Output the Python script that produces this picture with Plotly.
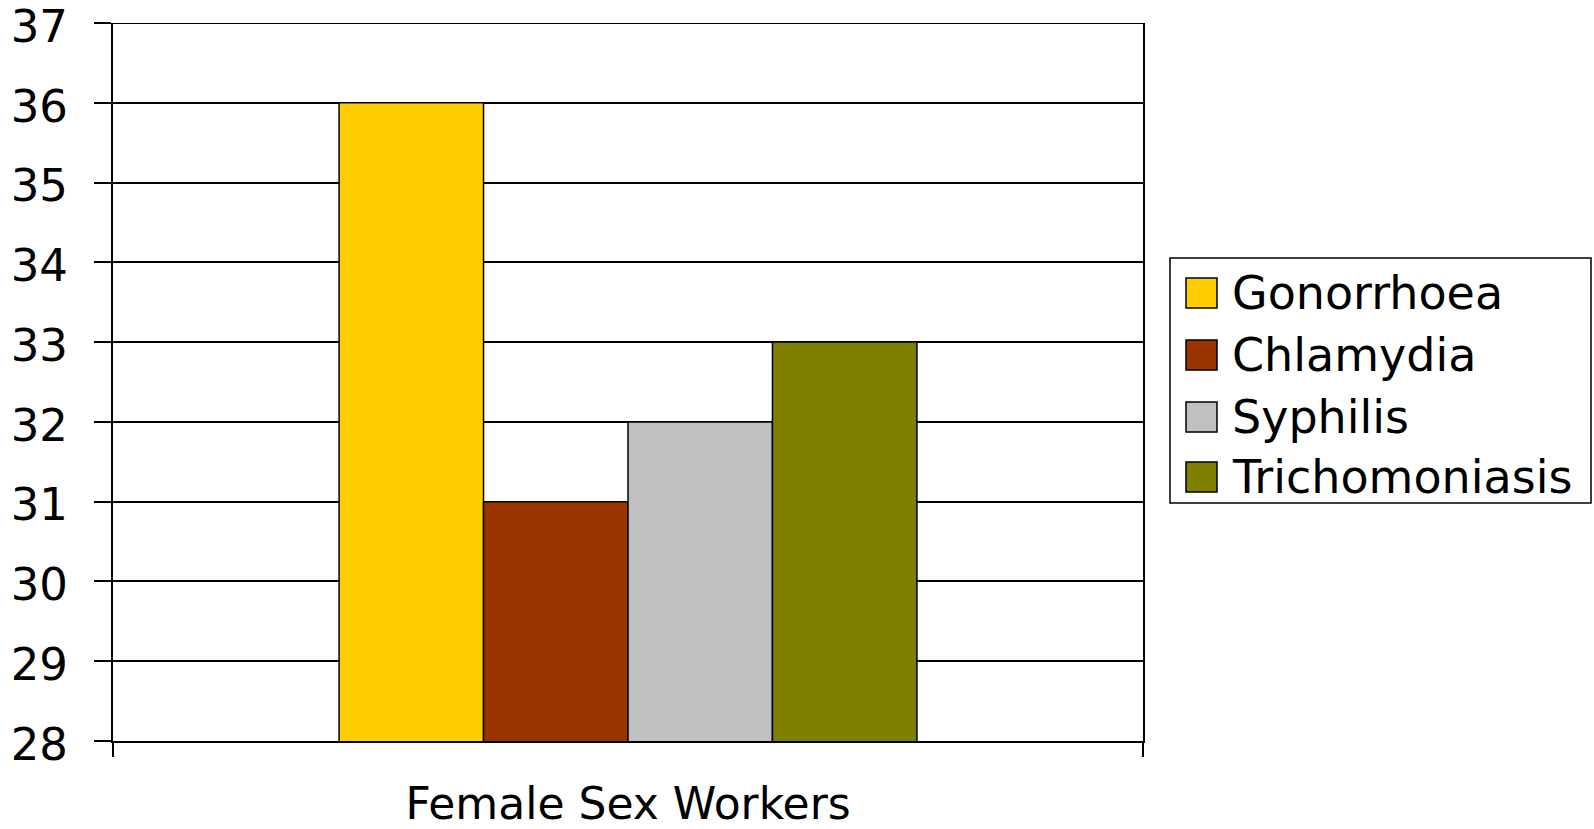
import plotly.graph_objects as go

categories = ["Female Sex Workers"]
series_names = ["Gonorrhoea", "Chlamydia", "Syphilis", "Trichomoniasis"]
series_values = [[36], [31], [32], [33]]
series_colors = ["#FFCC00", "#993300", "#C0C0C0", "#808000"]
y_ticks = list(range(28, 38))

W, H = 1594, 829
L, R, T, B = 113, 451, 23, 88
PW, PH = W - L - R, H - T - B
FONT = "DejaVu Sans, Liberation Sans, Arial, sans-serif"
FS = 46

def px(x):
    return (x - L) / PW

def py(y):
    return (H - B - y) / PH

fig = go.Figure()
for name, vals, col in zip(series_names, series_values, series_colors):
    fig.add_trace(go.Bar(
        x=categories, y=vals, name=name,
        marker=dict(color=col, line=dict(color="black", width=1.5)),
        showlegend=False,
    ))

shapes = []
annotations = []
# top gridline at the upper end of the value axis
shapes.append(dict(type="line", xref="paper", yref="y", x0=0, x1=1,
                   y0=y_ticks[-1], y1=y_ticks[-1],
                   line=dict(color="black", width=2), layer="below"))
# custom legend (large swatches like the original)
shapes.append(dict(type="rect", xref="paper", yref="paper",
                   x0=px(1170), x1=px(1591), y0=py(258), y1=py(503),
                   line=dict(color="black", width=1.5), fillcolor="white", layer="above"))
row_y = [293, 355, 417, 477]
for name, col, cy in zip(series_names, series_colors, row_y):
    shapes.append(dict(type="rect", xref="paper", yref="paper",
                       x0=px(1186), x1=px(1217), y0=py(cy - 15), y1=py(cy + 15),
                       line=dict(color="black", width=1.5), fillcolor=col, layer="above"))
    annotations.append(dict(xref="paper", yref="paper", x=px(1230), y=py(cy),
                            text=name, showarrow=False, xanchor="left", yanchor="middle",
                            font=dict(family=FONT, size=FS, color="black")))

fig.update_layout(
    width=W, height=H,
    margin=dict(l=L, r=R, t=T, b=B, pad=0),
    paper_bgcolor="white", plot_bgcolor="white",
    barmode="group", bargap=0.439, bargroupgap=0,
    shapes=shapes, annotations=annotations,
    font=dict(family=FONT, color="black"),
)
fig.update_xaxes(
    type="category", range=[-0.5, 0.5], automargin=False,
    showline=True, linecolor="black", linewidth=2, mirror=False,
    ticks="outside", tickson="boundaries", ticklen=14, tickwidth=2, tickcolor="black",
    tickfont=dict(family=FONT, size=44, color="black"),
    ticklabelstandoff=23, ticklabeloverflow="allow",
    showgrid=False,
)
fig.update_yaxes(
    range=[28, 37], tickvals=y_ticks, ticktext=[str(v) for v in y_ticks],
    automargin=False,
    showline=True, linecolor="black", linewidth=2, mirror=True,
    ticks="outside", ticklen=17, tickwidth=2, tickcolor="black",
    tickfont=dict(family=FONT, size=45, color="black"),
    ticklabelstandoff=17, ticklabelshift=3, ticklabeloverflow="allow",
    showgrid=True, gridcolor="black", gridwidth=2,
    zeroline=False,
)
fig.write_html("out.html", config={"displayModeBar": False},
               post_script="document.body.style.margin='0';")
